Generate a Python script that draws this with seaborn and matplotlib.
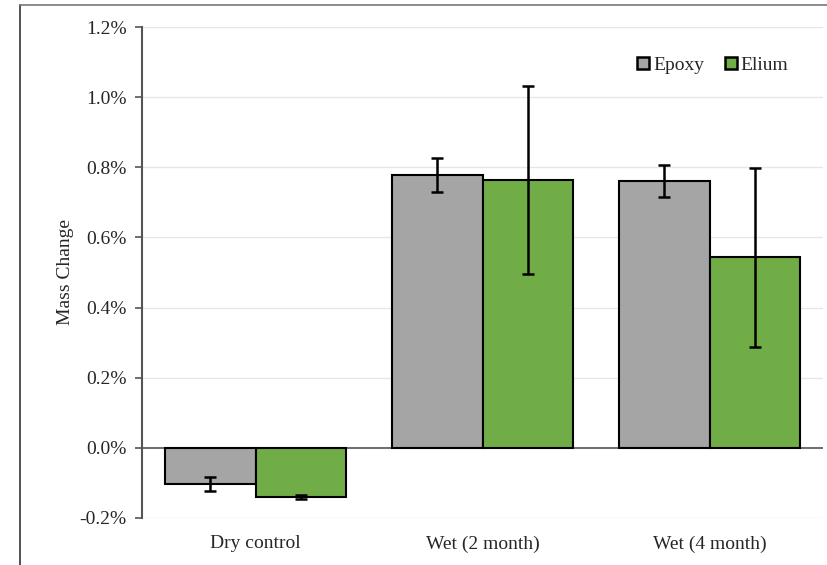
import numpy as np
import pandas as pd
import matplotlib
matplotlib.use("Agg")
import matplotlib.pyplot as plt
import seaborn as sns
from matplotlib.lines import Line2D

# values in percent
conditions = ["Dry control", "Wet (2 month)", "Wet (4 month)"]
materials = ["Epoxy", "Elium"]
epoxy_mean = [-0.103, 0.778, 0.761]
epoxy_err = [0.020, 0.048, 0.046]
elium_mean = [-0.140, 0.764, 0.543]
elium_err = [0.005, 0.268, 0.256]
yticks = [-0.2, 0.0, 0.2, 0.4, 0.6, 0.8, 1.0, 1.2]

colors = {"Epoxy": "#A5A5A5", "Elium": "#70AD47"}

df = pd.DataFrame({
    "Condition": conditions * 2,
    "Material": ["Epoxy"] * 3 + ["Elium"] * 3,
    "Mass": epoxy_mean + elium_mean,
    "Err": epoxy_err + elium_err,
})

sns.set_style("white")
plt.rcParams["font.family"] = ["Liberation Serif", "DejaVu Serif"]

fig = plt.figure(figsize=(8.28, 5.65), dpi=100)
ax = fig.add_axes([0.1715, 0.0832, 0.8225, 0.869])

for y in yticks:
    if y != 0:
        ax.axhline(y, color="#e6e6e6", lw=1, zorder=0)

sns.barplot(data=df, x="Condition", y="Mass", hue="Material",
            hue_order=materials, order=conditions, palette=colors,
            errorbar=None, width=0.8, edgecolor="black", linewidth=1.5,
            saturation=1, ax=ax, zorder=2, legend=False)

ax.axhline(0, color="#555555", lw=1.2, zorder=1)

# error bars at the bar centres
bars = [p for p in ax.patches if p.get_width() > 0]
for i, mat in enumerate(materials):
    sub = df[df.Material == mat]
    for j, (_, row) in enumerate(sub.iterrows()):
        p = bars[i * 3 + j]
        xc = p.get_x() + p.get_width() / 2
        ax.errorbar(xc, row.Mass, yerr=row.Err, fmt="none", ecolor="black",
                    elinewidth=1.8, capsize=4, capthick=1.8, zorder=3)

ax.set_xlim(-0.5, 2.5)
ax.set_ylim(-0.2, 1.2)
ax.set_yticks(yticks)
ax.set_yticklabels([f"{v:.1f}%" for v in yticks], fontsize=14)
ax.tick_params(axis="y", left=True, length=5, width=1.2, color="#555555", pad=6)
ax.tick_params(axis="x", bottom=False, labelsize=14, pad=9)
ax.set_xlabel("")
ax.set_ylabel("Mass Change", fontsize=14, labelpad=4)

for s in ["top", "right", "bottom"]:
    ax.spines[s].set_visible(False)
ax.spines["left"].set_color("#555555")
ax.spines["left"].set_linewidth(1.5)

handles = [Line2D([], [], marker="s", ls="", markersize=9,
                  markerfacecolor=colors[m], markeredgecolor="black",
                  markeredgewidth=1.8, label=m) for m in materials]
ax.legend(handles=handles, loc="center", bbox_to_anchor=(0.837, 0.922),
          ncol=2, frameon=False, fontsize=14, handlelength=0.8,
          handletextpad=0.1, columnspacing=1.0)

# border lines at left and top of the picture
fig.add_artist(Line2D([0.024, 0.024], [0, 0.991], color="#333333", lw=1.2))
fig.add_artist(Line2D([0.024, 1.0], [0.991, 0.991], color="#777777", lw=1.2))

fig.savefig("out.png", dpi=100)
